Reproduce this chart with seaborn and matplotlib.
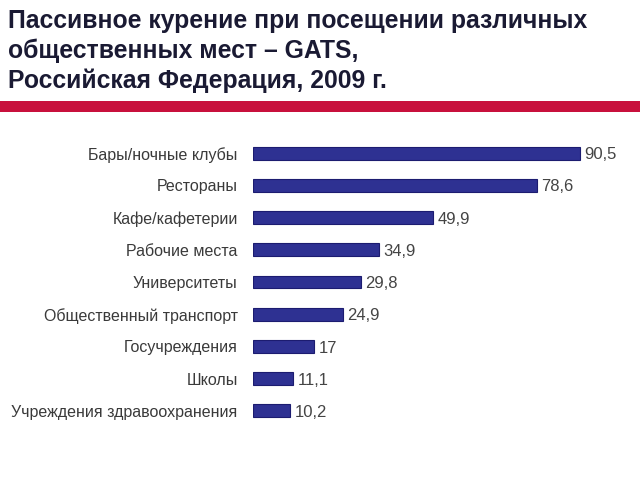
import pandas as pd
import matplotlib.pyplot as plt
import seaborn as sns
from matplotlib.patches import Rectangle

places = ["Бары/ночные клубы", "Рестораны", "Кафе/кафетерии", "Рабочие места",
          "Университеты", "Общественный транспорт", "Госучреждения", "Школы",
          "Учреждения здравоохранения"]
shares = [90.5, 78.6, 49.9, 34.9, 29.8, 24.9, 17, 11.1, 10.2]
value_labels = ["90,5", "78,6", "49,9", "34,9", "29,8", "24,9", "17", "11,1", "10,2"]

df = pd.DataFrame({"place": places, "share": shares})

sns.set_style("white")
plt.rcParams['font.family'] = ['Liberation Sans', 'DejaVu Sans']

fig = plt.figure(figsize=(6.4, 4.8), dpi=100)

# title block
fig.text(0.0125, 0.982, "Пассивное курение при посещении различных\nобщественных мест – GATS,\nРоссийская Федерация, 2009 г.",
         ha='left', va='top', fontsize=17.8, fontweight='bold', color='#1a1a33', linespacing=1.28)
fig.add_artist(Rectangle((0, 1 - 112 / 480), 1, 11 / 480, transform=fig.transFigure,
                         color='#C8103C', lw=0))

ax = fig.add_axes([253 / 640, 1 - 427 / 480, 361 / 640, 290 / 480])
sns.barplot(data=df, x="share", y="place", orient="h", color="#2E3192",
            edgecolor="#1c1c70", linewidth=0.8, width=0.4, saturation=1, ax=ax)

for i, (v, lab) in enumerate(zip(shares, value_labels)):
    ax.text(v + 1.3, i + 0.05, lab, va='center', ha='left', fontsize=12, color='#444444')

ax.set_xlim(0, 100)
ax.set_ylim(8.5, -0.5)
ax.set_xlabel("")
ax.set_ylabel("")
ax.set_xticks([])
ax.tick_params(axis='y', length=0, pad=11, labelsize=11.5, labelcolor='#3a3a3a')
sns.despine(ax=ax, left=True, bottom=True)

fig.savefig("out.png", dpi=100)
